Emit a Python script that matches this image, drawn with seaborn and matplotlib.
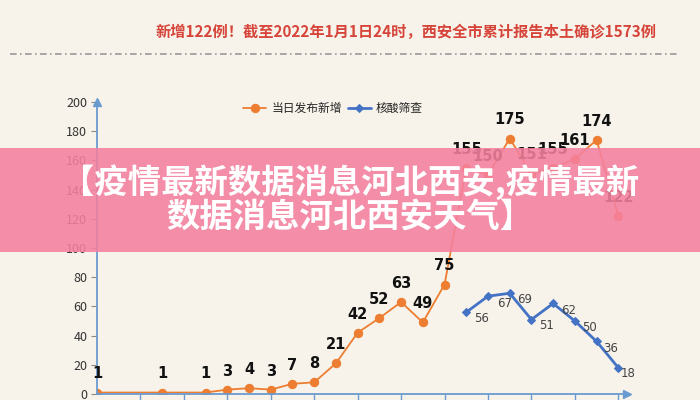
import seaborn as sns
import pandas as pd
import matplotlib.pyplot as plt
import matplotlib.patches as mpatches

sns.set_style('white')
plt.rcParams['font.family'] = ['Noto Sans CJK SC', 'DejaVu Sans']

# day index along the x axis (some early days have no report)
new_days = [0, 3, 5, 6, 7, 8, 9, 10, 11, 12, 13, 14, 15, 16, 17, 18, 19, 20, 21, 22, 23, 24]
new_cases = [1, 1, 1, 3, 4, 3, 7, 8, 21, 42, 52, 63, 49, 75, 155, 150, 175, 151, 155, 161, 174, 122]
screen_days = [17, 18, 19, 20, 21, 22, 23, 24]
screen_cases = [56, 67, 69, 51, 62, 50, 36, 18]
series_names = ['当日发布新增', '核酸筛查']
y_ticks = [0, 20, 40, 60, 80, 100, 120, 140, 160, 180, 200]
x_ticks = list(range(2, 25, 2))

title = '新增122例！截至2022年1月1日24时，西安全市累计报告本土确诊1573例'
banner = '【疫情最新数据消息河北西安,疫情最新\n数据消息河北西安天气】'

bg = '#F7F3EA'
orange = '#ED7D31'
blue = '#4472C4'
axis_blue = '#6A9BD0'

df_new = pd.DataFrame({'day': new_days, 'cases': new_cases})
df_scr = pd.DataFrame({'day': screen_days, 'cases': screen_cases})

fig = plt.figure(figsize=(7, 4), dpi=100, facecolor=bg)
ax = fig.add_axes([97 / 700, 6 / 400, 530 / 700, 292 / 400])
ax.set_facecolor(bg)

sns.lineplot(data=df_new, x='day', y='cases', ax=ax, color=orange, linewidth=1.3,
             marker='o', markersize=6, markeredgecolor=orange, label=series_names[0])
sns.lineplot(data=df_scr, x='day', y='cases', ax=ax, color=blue, linewidth=2,
             marker='D', markersize=4.5, markeredgecolor=blue, label=series_names[1])

for d, v in zip(new_days, new_cases):
    ax.annotate(str(v), (d, v), xytext=(0, 8), textcoords='offset points',
                ha='center', va='bottom', fontsize=10.5, fontweight='bold',
                color='#111111', family='DejaVu Sans')

scr_offsets = [(5.5, -4.5), (6.5, -5), (5, -4.5), (5.5, -4.5), (5.5, -5), (5.5, -4.5), (5, -5), (2, -4.5)]
for (d, v), off in zip(zip(screen_days, screen_cases), scr_offsets):
    ax.annotate(str(v), (d, v), xytext=off, textcoords='offset points',
                ha='left', va='center', fontsize=8.5, color='#444444',
                family='DejaVu Sans')

ax.set_xlim(0, 24.4)
ax.set_ylim(0, 200)
ax.set_yticks(y_ticks)
ax.set_xticks(x_ticks)
ax.set_xticklabels([])
ax.set_xlabel('')
ax.set_ylabel('')
ax.tick_params(axis='y', labelsize=9, labelcolor='#333333', length=4,
               color='#888888', direction='out', left=True, pad=3)
ax.tick_params(axis='x', length=7, color=axis_blue, width=1, direction='out', bottom=True)
for s in ['top', 'right']:
    ax.spines[s].set_visible(False)
for s in ['left', 'bottom']:
    ax.spines[s].set_color(axis_blue)
    ax.spines[s].set_linewidth(1.3)
ax.plot(1, 0, '>', color=axis_blue, markersize=6, transform=ax.transAxes, clip_on=False)
ax.plot(0, 1, '^', color=axis_blue, markersize=6, transform=ax.transAxes, clip_on=False)

ax.legend(loc='upper center', bbox_to_anchor=(0.445, 1.035), ncol=2, frameon=False,
          fontsize=8.5, handlelength=2.0, columnspacing=0.5, handletextpad=0.4)

fig.text(406 / 700, 1 - 32 / 400, title, ha='center', va='center', fontsize=11,
         fontweight='bold', color='#D6443A')
fig.add_artist(plt.Line2D([10 / 700, 680 / 700], [1 - 54 / 400, 1 - 54 / 400],
                          color='#9A9A9A', linewidth=1.2, linestyle=(0, (4, 2, 1, 2))))

fig.add_artist(mpatches.Rectangle((0, 1 - 252 / 400), 1, 104 / 400, transform=fig.transFigure,
                                  facecolor='#F4809F', alpha=0.88, edgecolor='none', zorder=10))
fig.text(0.5, 1 - 199 / 400, banner, ha='center', va='center', fontsize=24,
         fontweight='heavy', color='white', linespacing=1.0, zorder=11)

fig.savefig('out.png', dpi=100, facecolor=bg)
